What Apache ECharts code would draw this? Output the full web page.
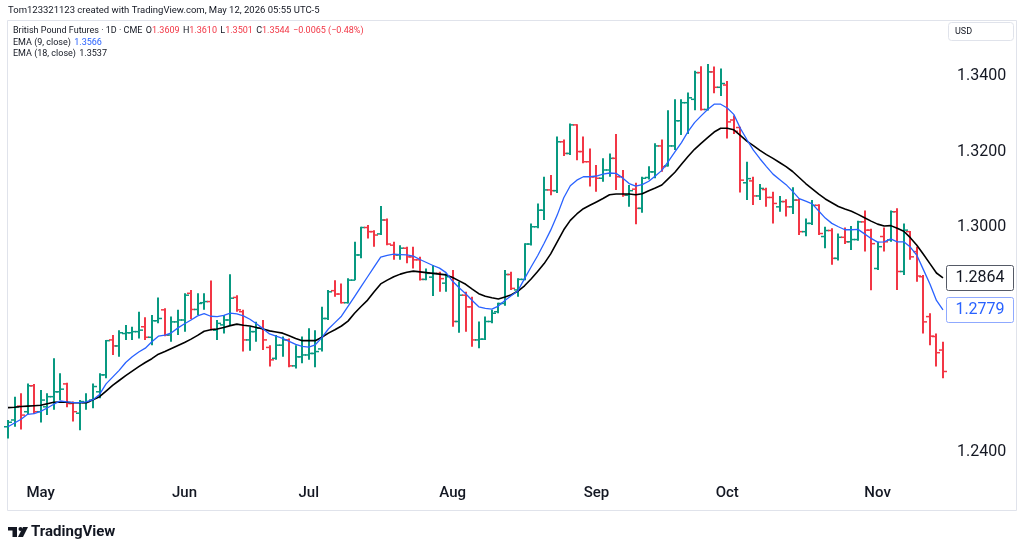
<!DOCTYPE html>
<html>
<head>
<meta charset="utf-8">
<script src="https://cdn.jsdelivr.net/npm/echarts@6/dist/echarts.min.js"></script>
<style>
html,body{margin:0;padding:0;background:#fff;}
#main{width:1024px;height:554px;}
</style>
</head>
<body>
<div id="main"></div>
<script>
// daily sessions, CME British Pound futures
const dates = [
  '2024-04-24','2024-04-25','2024-04-26','2024-04-29','2024-04-30',
  '2024-05-01','2024-05-02','2024-05-03','2024-05-06','2024-05-07','2024-05-08','2024-05-09','2024-05-10',
  '2024-05-13','2024-05-14','2024-05-15','2024-05-16','2024-05-17','2024-05-20','2024-05-21','2024-05-22',
  '2024-05-23','2024-05-24','2024-05-28','2024-05-29','2024-05-30','2024-05-31',
  '2024-06-03','2024-06-04','2024-06-05','2024-06-06','2024-06-07','2024-06-10','2024-06-11','2024-06-12',
  '2024-06-13','2024-06-14','2024-06-17','2024-06-18','2024-06-20','2024-06-21','2024-06-24','2024-06-25',
  '2024-06-26','2024-06-27','2024-06-28',
  '2024-07-01','2024-07-02','2024-07-03','2024-07-05','2024-07-08','2024-07-09','2024-07-10','2024-07-11',
  '2024-07-12','2024-07-15','2024-07-16','2024-07-17','2024-07-18','2024-07-19','2024-07-22','2024-07-23',
  '2024-07-24','2024-07-25','2024-07-26','2024-07-29','2024-07-30','2024-07-31',
  '2024-08-01','2024-08-02','2024-08-05','2024-08-06','2024-08-07','2024-08-08','2024-08-09','2024-08-12',
  '2024-08-13','2024-08-14','2024-08-15','2024-08-16','2024-08-19','2024-08-20','2024-08-21','2024-08-22',
  '2024-08-23','2024-08-26','2024-08-27','2024-08-28','2024-08-29','2024-08-30',
  '2024-09-03','2024-09-04','2024-09-05','2024-09-06','2024-09-09','2024-09-10','2024-09-11','2024-09-12',
  '2024-09-13','2024-09-16','2024-09-17','2024-09-18','2024-09-19','2024-09-20','2024-09-23','2024-09-24',
  '2024-09-25','2024-09-26','2024-09-27','2024-09-30',
  '2024-10-01','2024-10-02','2024-10-03','2024-10-04','2024-10-07','2024-10-08','2024-10-09','2024-10-10',
  '2024-10-11','2024-10-14','2024-10-15','2024-10-16','2024-10-17','2024-10-18','2024-10-21','2024-10-22',
  '2024-10-23','2024-10-24','2024-10-25','2024-10-28','2024-10-29','2024-10-30','2024-10-31',
  '2024-11-01','2024-11-04','2024-11-05','2024-11-06','2024-11-07','2024-11-08','2024-11-11','2024-11-12',
  '2024-11-13','2024-11-14','2024-11-15'
];

const opens = [
  1.2468,1.2486,1.2523,1.2508,1.2577,1.2508,1.2521,1.2548,1.2561,1.2582,1.2530,1.2504,1.2532,1.2539,1.2561,1.2606,
  1.2699,1.2683,1.2716,1.2718,1.2721,1.2734,1.2706,1.2750,1.2779,1.2712,1.2747,1.2752,1.2823,1.2780,1.2798,1.2801,
  1.2725,1.2739,1.2752,1.2812,1.2774,1.2699,1.2721,1.2730,1.2679,1.2650,1.2685,1.2699,1.2630,1.2654,1.2659,1.2663,
  1.2675,1.2756,1.2830,1.2821,1.2798,1.2858,1.2925,1.2998,1.2987,1.2981,1.3018,1.2951,1.2925,1.2943,1.2920,1.2912,
  1.2860,1.2866,1.2876,1.2850,1.2867,1.2748,1.2818,1.2787,1.2699,1.2701,1.2748,1.2774,1.2796,1.2873,1.2832,1.2860,
  1.2954,1.3000,1.3044,1.3098,1.3096,1.3226,1.3195,1.3271,1.3200,1.3173,1.3133,1.3129,1.3151,1.3182,1.3133,1.3084,
  1.3100,1.3049,1.3131,1.3146,1.3215,1.3162,1.3215,1.3282,1.3330,1.3339,1.3410,1.3312,1.3412,1.3371,1.3377,1.3284,
  1.3264,1.3117,1.3122,1.3082,1.3099,1.3078,1.3053,1.3067,1.3053,1.3071,1.2987,1.3009,1.3057,1.2974,1.2990,1.2916,
  1.2972,1.2960,1.2966,1.3013,1.2991,1.2889,1.2974,1.2965,1.3040,1.2881,1.2987,1.2934,1.2867,1.2761,1.2708,1.2672
];
const highs = [
  1.2486,1.2548,1.2557,1.2583,1.2582,1.2566,1.2557,1.2650,1.2610,1.2585,1.2535,1.2539,1.2557,1.2583,1.2610,1.2699,
  1.2712,1.2725,1.2739,1.2734,1.2774,1.2759,1.2765,1.2812,1.2783,1.2761,1.2779,1.2823,1.2832,1.2823,1.2823,1.2857,
  1.2752,1.2765,1.2874,1.2818,1.2779,1.2734,1.2747,1.2752,1.2685,1.2712,1.2708,1.2703,1.2685,1.2708,1.2730,1.2725,
  1.2787,1.2832,1.2858,1.2849,1.2863,1.2960,1.3000,1.3005,1.2991,1.3055,1.3022,1.2960,1.2951,1.2947,1.2947,1.2920,
  1.2889,1.2898,1.2880,1.2876,1.2885,1.2854,1.2827,1.2814,1.2748,1.2761,1.2779,1.2798,1.2885,1.2880,1.2863,1.2956,
  1.3009,1.3062,1.3133,1.3138,1.3240,1.3232,1.3275,1.3273,1.3240,1.3208,1.3164,1.3182,1.3195,1.3247,1.3151,1.3111,
  1.3117,1.3133,1.3161,1.3222,1.3232,1.3310,1.3339,1.3339,1.3357,1.3415,1.3427,1.3433,1.3426,1.3421,1.3388,1.3296,
  1.3266,1.3173,1.3133,1.3114,1.3104,1.3093,1.3082,1.3073,1.3105,1.3075,1.3022,1.3071,1.3060,1.3000,1.2996,1.2982,
  1.2998,1.3002,1.3016,1.3043,1.2995,1.2960,1.2998,1.3043,1.3049,1.3009,1.2989,1.2947,1.2872,1.2770,1.2716,1.2694
];
const lows = [
  1.2437,1.2468,1.2461,1.2502,1.2502,1.2479,1.2499,1.2513,1.2539,1.2520,1.2482,1.2459,1.2513,1.2517,1.2544,1.2597,
  1.2659,1.2654,1.2699,1.2699,1.2703,1.2699,1.2685,1.2743,1.2709,1.2694,1.2712,1.2721,1.2754,1.2765,1.2779,1.2725,
  1.2699,1.2716,1.2739,1.2774,1.2668,1.2670,1.2694,1.2672,1.2628,1.2646,1.2654,1.2626,1.2623,1.2637,1.2646,1.2626,
  1.2668,1.2752,1.2814,1.2796,1.2796,1.2858,1.2916,1.2969,1.2947,1.2978,1.2951,1.2912,1.2912,1.2903,1.2889,1.2857,
  1.2858,1.2816,1.2827,1.2827,1.2734,1.2718,1.2721,1.2681,1.2677,1.2699,1.2743,1.2770,1.2790,1.2832,1.2814,1.2858,
  1.2950,1.2996,1.3018,1.3084,1.3090,1.3188,1.3191,1.3177,1.3169,1.3107,1.3093,1.3120,1.3133,1.3098,1.3080,1.3053,
  1.3007,1.3037,1.3126,1.3129,1.3146,1.3160,1.3204,1.3244,1.3247,1.3310,1.3309,1.3309,1.3355,1.3348,1.3235,1.3247,
  1.3091,1.3071,1.3058,1.3071,1.3053,1.3009,1.3040,1.3027,1.3034,1.2978,1.2975,1.3005,1.2978,1.2943,1.2899,1.2910,
  1.2954,1.2938,1.2963,1.2934,1.2831,1.2885,1.2934,1.2960,1.2832,1.2872,1.2912,1.2854,1.2716,1.2685,1.2628,1.2597
];
const closes = [
  1.2480,1.2521,1.2499,1.2577,1.2508,1.2539,1.2548,1.2561,1.2568,1.2530,1.2508,1.2535,1.2535,1.2575,1.2606,1.2697,
  1.2683,1.2718,1.2718,1.2721,1.2725,1.2706,1.2750,1.2756,1.2712,1.2747,1.2752,1.2818,1.2780,1.2796,1.2801,1.2727,
  1.2743,1.2752,1.2810,1.2779,1.2699,1.2721,1.2730,1.2699,1.2646,1.2685,1.2699,1.2630,1.2654,1.2659,1.2663,1.2668,
  1.2756,1.2827,1.2821,1.2798,1.2858,1.2925,1.2998,1.2987,1.2978,1.3018,1.2954,1.2925,1.2943,1.2920,1.2912,1.2860,
  1.2876,1.2876,1.2862,1.2867,1.2748,1.2818,1.2787,1.2699,1.2701,1.2748,1.2770,1.2796,1.2873,1.2836,1.2860,1.2954,
  1.3000,1.3044,1.3098,1.3096,1.3226,1.3195,1.3271,1.3200,1.3173,1.3133,1.3129,1.3151,1.3182,1.3133,1.3084,1.3096,
  1.3049,1.3129,1.3146,1.3215,1.3160,1.3215,1.3282,1.3330,1.3343,1.3410,1.3312,1.3412,1.3371,1.3381,1.3279,1.3254,
  1.3124,1.3128,1.3082,1.3102,1.3078,1.3062,1.3067,1.3053,1.3071,1.2987,1.3009,1.3057,1.2982,1.2990,1.2916,1.2972,
  1.2960,1.2966,1.3013,1.2991,1.2955,1.2947,1.2960,1.3040,1.2881,1.2991,1.2920,1.2869,1.2747,1.2709,1.2665,1.2615
];

// EMA lines
const ema9 = [
  1.2468,1.2478,1.2488,1.2501,1.2503,1.2509,1.2518,1.2528,1.2537,1.2534,1.2532,1.2532,1.2534,1.2540,1.2554,1.2582,
  1.2600,1.2618,1.2639,1.2654,1.2667,1.2677,1.2694,1.2709,1.2712,1.2718,1.2731,1.2742,1.2752,1.2763,1.2769,1.2762,
  1.2761,1.2764,1.2770,1.2768,1.2763,1.2754,1.2742,1.2729,1.2715,1.2709,1.2703,1.2695,1.2687,1.2682,1.2680,1.2686,
  1.2705,1.2728,1.2745,1.2762,1.2788,1.2814,1.2841,1.2867,1.2893,1.2919,1.2924,1.2927,1.2926,1.2925,1.2922,1.2913,
  1.2905,1.2897,1.2890,1.2878,1.2855,1.2838,1.2822,1.2804,1.2787,1.2783,1.2781,1.2789,1.2804,1.2817,1.2830,1.2862,
  1.2893,1.2923,1.2956,1.2991,1.3031,1.3077,1.3109,1.3124,1.3133,1.3133,1.3135,1.3140,1.3143,1.3142,1.3130,1.3115,
  1.3108,1.3112,1.3121,1.3135,1.3150,1.3174,1.3199,1.3224,1.3253,1.3277,1.3295,1.3312,1.3326,1.3326,1.3316,1.3299,
  1.3262,1.3232,1.3204,1.3181,1.3160,1.3140,1.3126,1.3112,1.3094,1.3075,1.3068,1.3061,1.3042,1.3023,1.3009,1.3000,
  1.2992,1.2992,1.2993,1.2981,1.2969,1.2959,1.2960,1.2968,1.2960,1.2960,1.2946,1.2924,1.2886,1.2848,1.2804,1.2779
];
const ema18 = [
  1.2519,1.2520,1.2522,1.2523,1.2524,1.2525,1.2529,1.2533,1.2534,1.2533,1.2532,1.2532,1.2532,1.2540,1.2548,1.2563,
  1.2578,1.2591,1.2604,1.2616,1.2628,1.2639,1.2649,1.2661,1.2668,1.2676,1.2684,1.2692,1.2701,1.2711,1.2722,1.2726,
  1.2728,1.2732,1.2737,1.2741,1.2738,1.2736,1.2732,1.2728,1.2723,1.2720,1.2717,1.2710,1.2703,1.2697,1.2697,1.2697,
  1.2706,1.2717,1.2726,1.2736,1.2749,1.2770,1.2788,1.2805,1.2827,1.2848,1.2858,1.2867,1.2874,1.2879,1.2882,1.2880,
  1.2878,1.2876,1.2874,1.2872,1.2865,1.2856,1.2847,1.2834,1.2822,1.2815,1.2811,1.2808,1.2813,1.2819,1.2829,1.2843,
  1.2861,1.2881,1.2902,1.2928,1.2960,1.2992,1.3017,1.3034,1.3048,1.3057,1.3066,1.3075,1.3085,1.3087,1.3087,1.3087,
  1.3085,1.3088,1.3096,1.3103,1.3111,1.3128,1.3145,1.3166,1.3187,1.3206,1.3222,1.3237,1.3252,1.3262,1.3262,1.3258,
  1.3243,1.3228,1.3216,1.3203,1.3192,1.3182,1.3171,1.3160,1.3147,1.3131,1.3115,1.3101,1.3087,1.3074,1.3064,1.3054,
  1.3047,1.3041,1.3033,1.3024,1.3015,1.3007,1.3002,1.3003,1.2996,1.2988,1.2971,1.2951,1.2927,1.2902,1.2877,1.2864
];

const monthNames = ['Jan','Feb','Mar','Apr','May','Jun','Jul','Aug','Sep','Oct','Nov','Dec'];
const priceLabels = [1.24, 1.30, 1.32, 1.34];

const upColor = '#089981';
const downColor = '#f23645';
const textColor = '#131722';

let ohlc = [];
for (let i = 0; i < dates.length; i++) {
  ohlc.push([i, opens[i], highs[i], lows[i], closes[i]]);
}

function renderBar(params, api) {
  let idx = api.value(0);
  let o = api.coord([idx, api.value(1)]);
  let h = api.coord([idx, api.value(2)]);
  let l = api.coord([idx, api.value(3)]);
  let c = api.coord([idx, api.value(4)]);
  let color = api.value(4) >= api.value(1) ? upColor : downColor;
  let x = Math.round(o[0]);
  return {
    type: 'group',
    children: [
      { type: 'line', shape: { x1: x, y1: h[1], x2: x, y2: l[1] }, style: { stroke: color, lineWidth: 2 } },
      { type: 'line', shape: { x1: x - 4, y1: o[1], x2: x, y2: o[1] }, style: { stroke: color, lineWidth: 1.5 } },
      { type: 'line', shape: { x1: x, y1: c[1], x2: x + 4, y2: c[1] }, style: { stroke: color, lineWidth: 1.5 } }
    ]
  };
}

let myChart = echarts.init(document.getElementById('main'));
let option = {
  animation: false,
  backgroundColor: '#ffffff',
  grid: { left: 8, right: 81, top: 20, bottom: 78 },
  xAxis: {
    type: 'category',
    data: dates,
    boundaryGap: false,
    axisLine: { show: false },
    axisTick: { show: false },
    splitLine: { show: false },
    axisLabel: {
      interval: function (index, value) {
        return index > 0 && value.slice(5, 7) !== dates[index - 1].slice(5, 7);
      },
      formatter: function (value) {
        return monthNames[parseInt(value.slice(5, 7), 10) - 1];
      },
      color: textColor,
      fontFamily: 'Roboto',
      fontSize: 15,
      fontWeight: 500,
      margin: 10
    }
  },
  yAxis: {
    type: 'value',
    position: 'right',
    min: 1.2337,
    max: 1.3550,
    splitNumber: 6,
    axisLine: { show: false },
    axisTick: { show: false },
    splitLine: { show: false },
    axisLabel: {
      showMinLabel: false,
      showMaxLabel: false,
      margin: 14,
      color: textColor,
      fontFamily: 'Roboto',
      fontSize: 16,
      formatter: function (v) {
        let hit = priceLabels.some(function (t) { return Math.abs(v - t) < 1e-6; });
        return hit ? v.toFixed(4) : '';
      }
    }
  },
  series: [
    {
      name: 'EMA (18, close)',
      type: 'line',
      data: ema18,
      showSymbol: false,
      lineStyle: { color: '#000000', width: 1.6 },
      z: 3
    },
    {
      name: 'EMA (9, close)',
      type: 'line',
      data: ema9,
      showSymbol: false,
      lineStyle: { color: '#2962ff', width: 1.3 },
      z: 3
    },
    {
      name: 'British Pound Futures',
      type: 'custom',
      renderItem: renderBar,
      data: ohlc,
      encode: { x: 0, y: [1, 2, 3, 4] },
      z: 2
    }
  ]
};
myChart.setOption(option);

// price tags for last EMA values and page texts
let lastIdx = dates.length - 1;
let y18 = myChart.convertToPixel({ yAxisIndex: 0 }, ema18[lastIdx]);
let y9 = myChart.convertToPixel({ yAxisIndex: 0 }, ema9[lastIdx]);

function tag(y, val, borderColor, txtColor) {
  return {
    type: 'group',
    children: [
      { type: 'rect', z: 100, shape: { x: 946.5, y: Math.round(y) - 12.5, width: 67, height: 25, r: 2 },
        style: { fill: '#ffffff', stroke: borderColor, lineWidth: 1 } },
      { type: 'text', z: 101, x: 980, y: Math.round(y),
        style: { text: val.toFixed(4), fill: txtColor, font: '16px Roboto', align: 'center', verticalAlign: 'middle' } }
    ]
  };
}

myChart.setOption({
  graphic: [
    { type: 'rect', shape: { x: 7.5, y: 20.5, width: 1009, height: 490 }, style: { fill: 'none', stroke: '#e0e3eb', lineWidth: 1 }, silent: true },
    { type: 'text', x: 8, y: 11, style: { text: 'Tom123321123 created with TradingView.com, May 12, 2026 05:55 UTC-5', fill: textColor, font: '9.5px Roboto', verticalAlign: 'middle' } },
    {
      type: 'text', x: 13, y: 31,
      style: {
        text: '{d|British Pound Futures · 1D · CME} {d|O}{r|1.3609} {d|H}{r|1.3610} {d|L}{r|1.3501} {d|C}{r|1.3544} {r|−0.0065 (−0.48%)}',
        verticalAlign: 'middle',
        rich: {
          d: { fill: textColor, font: '9px Roboto' },
          r: { fill: downColor, font: '9px Roboto' }
        }
      }
    },
    {
      type: 'text', x: 13, y: 42.5,
      style: {
        text: '{d|EMA (9, close)} {b|1.3566}',
        verticalAlign: 'middle',
        rich: { d: { fill: textColor, font: '9px Roboto' }, b: { fill: '#2962ff', font: '9px Roboto' } }
      }
    },
    {
      type: 'text', x: 13, y: 53.5,
      style: {
        text: '{d|EMA (18, close)} {d|1.3537}',
        verticalAlign: 'middle',
        rich: { d: { fill: textColor, font: '9px Roboto' } }
      }
    },
    { type: 'rect', shape: { x: 948.5, y: 22.5, width: 65, height: 18, r: 3 }, style: { fill: '#ffffff', stroke: '#e0e3eb', lineWidth: 1 } },
    { type: 'text', x: 955, y: 31.5, style: { text: 'USD', fill: textColor, font: '9px Roboto', verticalAlign: 'middle' } },
    tag(y18, ema18[lastIdx], '#555a66', '#131722'),
    tag(y9, ema9[lastIdx], '#8fa9ff', '#2962ff'),
    // TradingView mark
    { type: 'rect', shape: { x: 8, y: 527, width: 9, height: 3.5 }, style: { fill: '#131722' } },
    { type: 'rect', shape: { x: 12.5, y: 527, width: 4.5, height: 10 }, style: { fill: '#131722' } },
    { type: 'circle', shape: { cx: 20.5, cy: 529, r: 2 }, style: { fill: '#131722' } },
    { type: 'polygon', shape: { points: [[23, 527], [28, 527], [23, 537], [18, 537]] }, style: { fill: '#131722' } },
    { type: 'text', x: 31, y: 532.5, style: { text: 'TradingView', fill: '#131722', font: 'bold 15px Roboto', verticalAlign: 'middle' } }
  ]
});
</script>
</body>
</html>
